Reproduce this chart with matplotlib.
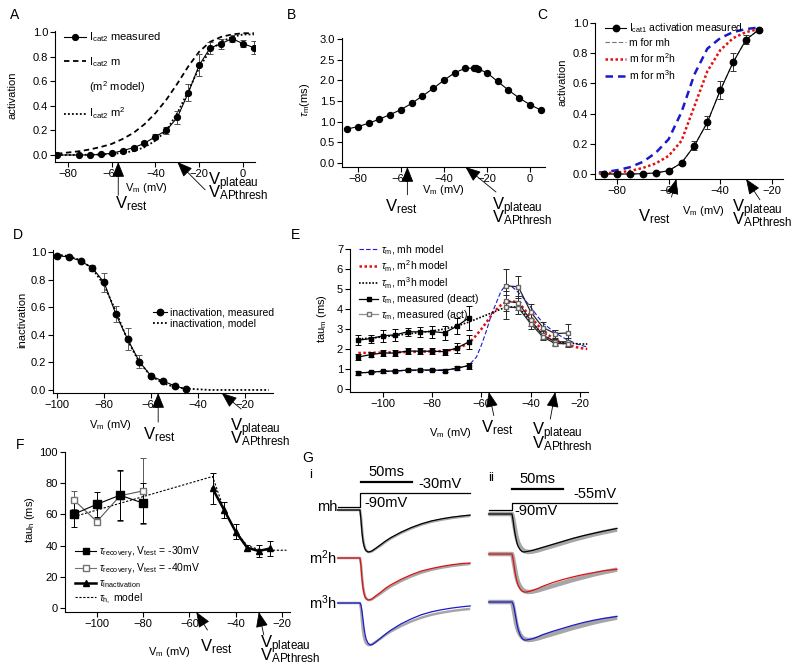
import matplotlib
matplotlib.use('Agg')
import matplotlib.pyplot as plt
from matplotlib.lines import Line2D

plt.rcParams['font.family'] = ['Liberation Sans Narrow', 'Liberation Sans', 'DejaVu Sans']
plt.rcParams['mathtext.fontset'] = 'custom'
plt.rcParams['mathtext.rm'] = 'Liberation Sans'
plt.rcParams['mathtext.it'] = 'Liberation Sans:italic'
plt.rcParams['mathtext.bf'] = 'Liberation Sans:bold'

# ---- A: Icat2 activation ----
a_v = [-85, -75, -70, -65, -60, -55, -50, -45, -40, -35, -30, -25, -20, -15, -10, -5, 0, 5]
a_act = [0.0, 0.0, 0.0, 0.005, 0.014, 0.035, 0.06, 0.095, 0.15, 0.20, 0.305, 0.505, 0.73, 0.87, 0.905, 0.946, 0.905, 0.873]
a_err = [0.0, 0.0, 0.0, 0.0, 0.005, 0.005, 0.01, 0.015, 0.02, 0.03, 0.05, 0.07, 0.09, 0.05, 0.04, 0.03, 0.03, 0.05]
a_mod_v = [-85, -80, -75, -70, -65, -60, -55, -50, -45, -40, -35, -30, -25, -20, -15, -10, -5, 0, 5]
a_m = [0.01, 0.02, 0.03, 0.045, 0.065, 0.09, 0.13, 0.18, 0.25, 0.34, 0.45, 0.58, 0.72, 0.84, 0.92, 0.96, 0.98, 0.99, 0.99]
a_m2 = [0.0, 0.0, 0.001, 0.002, 0.004, 0.008, 0.017, 0.032, 0.063, 0.116, 0.2, 0.34, 0.52, 0.71, 0.85, 0.92, 0.96, 0.98, 0.98]

# ---- B: tau m ----
b_v = [-85, -80, -75, -70, -65, -60, -55, -50, -45, -40, -35, -30, -26, -25, -24, -20, -15, -10, -5, 0, 5]
b_tau = [0.82, 0.88, 0.96, 1.06, 1.17, 1.29, 1.44, 1.62, 1.80, 2.0, 2.18, 2.29, 2.29, 2.29, 2.27, 2.18, 1.97, 1.76, 1.57, 1.41, 1.28]

# ---- C: Icat1 activation ----
c_v = [-85, -80, -75, -70, -65, -60, -55, -50, -45, -40, -35, -30, -25]
c_act = [0.0, 0.0, 0.0, 0.002, 0.007, 0.022, 0.073, 0.188, 0.342, 0.554, 0.74, 0.89, 0.956]
c_err = [0.0, 0.0, 0.0, 0.0, 0.004, 0.006, 0.01, 0.03, 0.045, 0.06, 0.06, 0.03, 0.01]
c_mod_v = [-87, -85, -80, -75, -70, -65, -60, -55, -50, -45, -40, -35, -30, -25]
c_m_mh = [0.0, 0.0, 0.0, 0.0, 0.002, 0.007, 0.022, 0.073, 0.188, 0.342, 0.554, 0.74, 0.89, 0.956]
c_m_m2h = [0.004, 0.005, 0.01, 0.02, 0.04, 0.07, 0.12, 0.22, 0.45, 0.68, 0.82, 0.9, 0.94, 0.96]
c_m_m3h = [0.01, 0.012, 0.025, 0.045, 0.08, 0.14, 0.23, 0.41, 0.66, 0.83, 0.9, 0.94, 0.96, 0.97]

# ---- D: inactivation ----
d_v = [-100, -95, -90, -85, -80, -75, -70, -65, -60, -55, -50, -45]
d_inact = [0.973, 0.964, 0.935, 0.884, 0.78, 0.55, 0.368, 0.206, 0.10, 0.065, 0.03, 0.005]
d_err = [0.01, 0.01, 0.01, 0.02, 0.07, 0.06, 0.08, 0.05, 0.01, 0.005, 0.005, 0.0]
d_mod_v = [-100, -95, -90, -85, -80, -75, -70, -65, -60, -55, -50, -45, -40, -35, -30, -25, -20, -15, -10]
d_mod = [0.98, 0.97, 0.94, 0.88, 0.76, 0.57, 0.36, 0.2, 0.1, 0.05, 0.02, 0.01, 0.005, 0.0, 0.0, 0.0, 0.0, 0.0, 0.0]

# ---- E: tau m, three models ----
e_deact_v = [-110, -105, -100, -95, -90, -85, -80, -75, -70, -65]
e_deact_mh = [0.80, 0.84, 0.89, 0.90, 0.95, 0.95, 0.95, 0.92, 1.05, 1.17]
e_deact_mh_err = [0.08, 0.06, 0.07, 0.07, 0.05, 0.06, 0.06, 0.07, 0.08, 0.15]
e_deact_m2h = [1.60, 1.72, 1.80, 1.80, 1.90, 1.89, 1.89, 1.87, 2.05, 2.36]
e_deact_m2h_err = [0.15, 0.12, 0.15, 0.17, 0.13, 0.15, 0.15, 0.15, 0.25, 0.35]
e_deact_m3h = [2.44, 2.52, 2.66, 2.71, 2.86, 2.86, 2.87, 2.81, 3.14, 3.57]
e_deact_m3h_err = [0.25, 0.2, 0.3, 0.3, 0.2, 0.25, 0.3, 0.35, 0.4, 0.6]
e_act_v = [-50, -45, -40, -35, -30, -25]
e_act_1 = [5.16, 5.11, 3.86, 3.07, 2.77, 2.80]
e_act_1_err = [0.85, 0.55, 0.4, 0.3, 0.2, 0.45]
e_act_2 = [4.39, 4.31, 3.44, 2.69, 2.36, 2.36]
e_act_2_err = [0.5, 0.35, 0.3, 0.2, 0.15, 0.2]
e_act_3 = [4.11, 4.06, 3.27, 2.60, 2.27, 2.27]
e_act_3_err = [0.6, 0.3, 0.25, 0.15, 0.1, 0.15]
e_mh_v = [-110, -100, -90, -80, -70, -65, -62, -60, -58, -56, -54, -52, -50, -48, -46, -44, -42, -40, -37, -35, -30, -25, -20, -17]
e_mh = [0.8, 0.87, 0.92, 0.94, 1.0, 1.2, 1.6, 2.2, 2.9, 3.7, 4.3, 4.9, 5.2, 5.15, 4.95, 4.7, 4.4, 4.1, 3.6, 3.3, 2.8, 2.45, 2.2, 2.1]
e_m2h_v = [-110, -100, -90, -80, -75, -70, -65, -62, -60, -57, -55, -52, -50, -48, -46, -44, -40, -35, -30, -25, -20, -17]
e_m2h = [1.8, 1.82, 1.85, 1.88, 1.9, 2.0, 2.3, 2.7, 3.0, 3.5, 3.85, 4.2, 4.35, 4.4, 4.35, 4.2, 3.6, 2.9, 2.45, 2.2, 2.05, 2.0]
e_m3h_v = [-110, -100, -90, -80, -75, -70, -65, -60, -55, -50, -45, -40, -35, -30, -25, -20, -17]
e_m3h = [2.5, 2.6, 2.75, 2.9, 3.0, 3.15, 3.35, 3.6, 3.85, 4.1, 4.1, 3.4, 2.7, 2.35, 2.3, 2.25, 2.25]

# ---- F: tau h ----
f_rec_v = [-110, -100, -90, -80]
f_rec30 = [60.1, 66.5, 72.3, 67.2]
f_rec30_err = [8, 8, 16, 13]
f_rec40 = [69.3, 55.4, 71.9, 75.1]
f_rec40_err = [6, 2, 16, 21]
f_inact_v = [-50, -45, -40, -35, -30, -25]
f_inact = [76.6, 62.9, 48.9, 38.6, 36.5, 38.2]
f_inact_err = [10, 5, 5, 2, 4, 5]
f_mod_v = [-110, -50, -45, -40, -35, -30, -25, -18]
f_mod = [58.5, 84.3, 63, 49, 40, 37.5, 37, 37]

# ---- G: current traces (normalised), i = step to -30 mV, ii = step to -55 mV ----
gi_t = [-22, 0, 1, 2, 3, 4, 5, 6, 8, 10, 12, 15, 20, 25, 30, 40, 50, 60, 70, 80, 90, 100, 108]
gi_data = [0, 0, -0.15, -0.45, -0.68, -0.82, -0.91, -0.96, -1.0, -1.0, -0.98, -0.93, -0.85, -0.76, -0.68, -0.55, -0.44, -0.35, -0.28, -0.23, -0.19, -0.16, -0.14]
gi_mh = [0, 0, -0.25, -0.55, -0.75, -0.86, -0.93, -0.97, -1.0, -0.99, -0.97, -0.92, -0.83, -0.74, -0.66, -0.53, -0.42, -0.33, -0.26, -0.21, -0.17, -0.14, -0.12]
gi_m2h = [0, 0, -0.2, -0.5, -0.72, -0.85, -0.93, -0.97, -1.0, -0.99, -0.97, -0.91, -0.82, -0.72, -0.64, -0.51, -0.40, -0.31, -0.25, -0.2, -0.16, -0.13, -0.12]
gi_m3h = [0, 0, -0.05, -0.2, -0.4, -0.6, -0.75, -0.86, -0.96, -1.0, -0.99, -0.94, -0.84, -0.74, -0.65, -0.5, -0.38, -0.28, -0.21, -0.16, -0.12, -0.09, -0.07]
gi_vt = [-22, 0, 0, 108]
gi_vcmd = [-90, -90, -30, -30]

gii_t = [-23, 0, 1, 2, 3, 4, 5, 6, 8, 10, 12, 14, 16, 20, 25, 30, 40, 50, 60, 70, 80, 90, 103]
gii_data = [0, 0, -0.1, -0.25, -0.4, -0.55, -0.66, -0.75, -0.86, -0.93, -0.97, -0.99, -1.0, -0.99, -0.96, -0.92, -0.84, -0.76, -0.68, -0.61, -0.54, -0.48, -0.41]
gii_mh = [0, 0, -0.15, -0.35, -0.52, -0.66, -0.77, -0.85, -0.94, -0.99, -1.0, -0.99, -0.98, -0.96, -0.92, -0.88, -0.8, -0.72, -0.64, -0.57, -0.51, -0.45, -0.38]
gii_m2h = [0, 0, -0.12, -0.3, -0.48, -0.62, -0.73, -0.82, -0.92, -0.98, -1.0, -1.0, -0.99, -0.96, -0.91, -0.85, -0.75, -0.67, -0.6, -0.54, -0.49, -0.44, -0.4]
gii_m3h = [0, 0, -0.05, -0.15, -0.3, -0.45, -0.6, -0.72, -0.87, -0.96, -1.0, -1.0, -0.99, -0.97, -0.92, -0.86, -0.77, -0.69, -0.61, -0.54, -0.48, -0.43, -0.38]
gii_vt = [-23, 0, 0, 103]
gii_vcmd = [-90, -90, -55, -55]

V_REST = -57
V_PLAT = -30

W, H = 800, 672
fig = plt.figure(figsize=(W / 100, H / 100), dpi=100)
RED = '#e01010'
BLUE = '#1a1acc'
LEG = 7.5


def px_axes(l, t, r, b):
    return fig.add_axes([l / W, 1 - b / H, (r - l) / W, (b - t) / H])


def ftext(x, y, s, **kw):
    kw.setdefault('fontsize', 8)
    return fig.text(x / W, 1 - y / H, s, **kw)


def style(ax, xlim, ylim, xticks, yticks, yfmt=None):
    for s in ('top', 'right'):
        ax.spines[s].set_visible(False)
    for s in ('left', 'bottom'):
        ax.spines[s].set_linewidth(0.8)
    ax.set_xlim(*xlim)
    ax.set_ylim(*ylim)
    ax.set_xticks(xticks)
    ax.set_yticks(yticks)
    if yfmt:
        ax.set_yticklabels([yfmt % y for y in yticks])
    ax.tick_params(direction='out', length=3.5, width=0.8, labelsize=8, pad=1.5)
    ax.patch.set_alpha(0)


def legend(ax, handles, labels, x, y, **kw):
    opts = dict(loc='upper left', frameon=False, fontsize=LEG, handlelength=2.0,
                handletextpad=0.3, borderpad=0, bbox_transform=fig.transFigure)
    opts.update(kw)
    ax.legend(handles, labels, bbox_to_anchor=(x / W, 1 - y / H), **opts)


def marks(ax, rest_off, plat_off):
    # black arrowheads pointing at V_rest and V_plateau on the x axis
    for x, off in ((V_REST, rest_off), (V_PLAT, plat_off)):
        ax.annotate('', xy=(x, 0), xycoords=('data', 'axes fraction'),
                    xytext=off, textcoords='offset points',
                    arrowprops=dict(arrowstyle='-|>,head_length=0.95,head_width=0.38',
                                    color='k', lw=0.6, shrinkA=0, shrinkB=0),
                    annotation_clip=False)


def vlabels(rest_xy, plat_xy, gap=11):
    ftext(rest_xy[0], rest_xy[1], r'V$_\mathregular{rest}$', fontsize=12, va='baseline')
    ftext(plat_xy[0], plat_xy[1], r'V$_\mathregular{plateau}$', fontsize=12, va='baseline')
    ftext(plat_xy[0], plat_xy[1] + gap, r'V$_\mathregular{APthresh}$', fontsize=12, va='baseline')


vm_label = r'V$_\mathregular{m}$ (mV)'
ebar = dict(capsize=2, elinewidth=0.7, capthick=0.7)

# ================= A =================
ax = px_axes(55, 31, 255, 162)
style(ax, (-85.9, 5.5), (-0.057, 1.008), [-80, -60, -40, -20, 0], [0, 0.2, 0.4, 0.6, 0.8, 1.0], '%.1f')
ax.plot(a_mod_v, a_m, color='k', ls=(0, (3, 2)), lw=1.3)
ax.plot(a_mod_v, a_m2, color='k', ls=(0, (1, 1.2)), lw=1.3)
ax.errorbar(a_v, a_act, yerr=a_err, fmt='-o', color='k', ms=4.2, lw=0.8, ecolor='0.3', **ebar)
hA = [Line2D([], [], color='k', marker='o', ms=4.2, lw=0.8),
      Line2D([], [], color='k', ls=(0, (3, 2)), lw=1.3),
      Line2D([], [], color='none'),
      Line2D([], [], color='k', ls=(0, (1, 1.2)), lw=1.3)]
lA = [r'I$_\mathregular{cat2}$ measured', r'I$_\mathregular{cat2}$ m',
      r'(m$^\mathregular{2}$ model)', r'I$_\mathregular{cat2}$ m$^\mathregular{2}$']
legend(ax, hA, lA, 58, 25, labelspacing=0.95, fontsize=8)
marks(ax, (0, -24), (20, -20))
ftext(13, 95, 'activation', rotation=90, ha='center', va='center')
ftext(146, 188, vm_label, ha='center', va='center')
vlabels((115, 208), (208, 185), 12)
ftext(15, 15, 'A', fontsize=10, ha='center', va='center')

# ================= B =================
ax = px_axes(342, 38, 545, 167)
style(ax, (-87.4, 7.0), (-0.097, 3.02), [-80, -60, -40, -20, 0], [0, 0.5, 1.0, 1.5, 2.0, 2.5, 3.0], '%.1f')
ax.plot(b_v, b_tau, '-o', color='k', ms=4.3, lw=0.8)
marks(ax, (0, -20), (22, -18))
ftext(305, 100, r'$\tau_\mathregular{m}$(ms)', rotation=90, ha='center', va='center')
ftext(443, 190, vm_label, ha='center', va='center')
vlabels((385, 211), (492, 210), 12)
ftext(292, 15, 'B', fontsize=10, ha='center', va='center')

# ================= C =================
ax = px_axes(595, 23, 783, 179)
style(ax, (-88.5, -15.7), (-0.033, 1.0), [-80, -60, -40, -20], [0, 0.2, 0.4, 0.6, 0.8, 1.0], '%.1f')
ax.plot(c_mod_v, c_m_m3h, color=BLUE, ls=(0, (3, 2)), lw=1.8)
ax.plot(c_mod_v, c_m_m2h, color=RED, ls=(0, (1, 1)), lw=1.8)
ax.plot(c_mod_v, c_m_mh, color='0.45', ls=(0, (4, 2)), lw=0.8)
ax.errorbar(c_v, c_act, yerr=c_err, fmt='-o', color='k', ms=4.6, lw=0.8, ecolor='0.2', **ebar)
hC = [Line2D([], [], color='k', marker='o', ms=4.6, lw=0.8),
      Line2D([], [], color='0.45', ls=(0, (4, 2)), lw=0.8),
      Line2D([], [], color=RED, ls=(0, (1, 1)), lw=1.8),
      Line2D([], [], color=BLUE, ls=(0, (3, 2)), lw=1.8)]
lC = [r'I$_\mathregular{cat1}$ activation measured', 'm for mh',
      r'm for m$^\mathregular{2}$h', r'm for m$^\mathregular{3}$h']
legend(ax, hC, lC, 600, 16, labelspacing=0.3)
marks(ax, (-3.5, -13), (10, -15))
ftext(563, 82, 'activation', rotation=90, ha='center', va='center')
ftext(703, 211, vm_label, ha='center', va='center')
vlabels((638, 221), (732, 212), 12)
ftext(542, 15, 'C', fontsize=10, ha='center', va='center')

# ================= D =================
ax = px_axes(53, 250, 273, 393)
style(ax, (-101.7, -8.2), (-0.022, 1.014), [-100, -80, -60, -40, -20], [0, 0.2, 0.4, 0.6, 0.8, 1.0], '%.1f')
ax.plot(d_mod_v, d_mod, color='k', ls=(0, (1, 1.2)), lw=1.3)
ax.errorbar(d_v, d_inact, yerr=d_err, fmt='-o', color='k', ms=4.6, lw=0.8, ecolor='0.35', **ebar)
hD = [Line2D([], [], color='k', marker='o', ms=4.6, lw=0.8),
      Line2D([], [], color='k', ls=(0, (1, 1.2)), lw=1.3)]
legend(ax, hD, ['inactivation, measured', 'inactivation, model'], 148, 302,
       handlelength=1.3, labelspacing=0.1)
marks(ax, (0, -21), (14, -11.5))
ftext(22, 320, 'inactivation', rotation=90, ha='center', va='center')
ftext(110, 425, vm_label, ha='center', va='center')
vlabels((143, 439), (230, 431), 12)
ftext(18, 235, 'D', fontsize=10, ha='center', va='center')

# ================= E =================
ax = px_axes(350, 249, 588, 392)
style(ax, (-113.4, -16.7), (-0.15, 7.0), [-100, -80, -60, -40, -20], list(range(8)))
ax.plot(e_mh_v, e_mh, color=BLUE, ls=(0, (4, 2)), lw=0.8)
ax.plot(e_m2h_v, e_m2h, color=RED, ls=(0, (1, 1)), lw=1.8)
ax.plot(e_m3h_v, e_m3h, color='k', ls=(0, (1, 1)), lw=1.2)
for y, err in ((e_deact_mh, e_deact_mh_err), (e_deact_m2h, e_deact_m2h_err), (e_deact_m3h, e_deact_m3h_err)):
    ax.errorbar(e_deact_v, y, yerr=err, fmt='-s', color='k', ms=3.2, lw=0.9, **ebar)
for y, err in ((e_act_1, e_act_1_err), (e_act_2, e_act_2_err), (e_act_3, e_act_3_err)):
    ax.errorbar(e_act_v, y, yerr=err, fmt='-s', color='0.15', mfc='white', mec='0.4', ms=3.2, lw=0.9, **ebar)
hE = [Line2D([], [], color=BLUE, ls=(0, (4, 2)), lw=0.8),
      Line2D([], [], color=RED, ls=(0, (1, 1)), lw=1.8),
      Line2D([], [], color='k', ls=(0, (1, 1)), lw=1.2),
      Line2D([], [], color='k', marker='s', ms=3.2, lw=0.9),
      Line2D([], [], color='0.55', marker='s', mfc='white', mec='0.45', ms=3.2, lw=0.9)]
lE = [r'$\tau_\mathregular{m}$, mh model', r'$\tau_\mathregular{m}$, m$^\mathregular{2}$h model',
      r'$\tau_\mathregular{m}$, m$^\mathregular{3}$h model', r'$\tau_\mathregular{m}$, measured (deact)',
      r'$\tau_\mathregular{m}$, measured (act)']
legend(ax, hE, lE, 354, 238, handlelength=1.8, labelspacing=0.15)
marks(ax, (3.6, -17), (-3.6, -19.5))
ftext(322, 318, r'tau$_\mathregular{m}$ (ms)', rotation=90, ha='center', va='center')
ftext(450, 433, vm_label, ha='center', va='center')
vlabels((481, 432), (532, 435), 13)
ftext(295, 235, 'E', fontsize=10, ha='center', va='center')

# ================= F =================
ax = px_axes(65, 452, 290, 612)
style(ax, (-113.8, -16.5), (-2.6, 100), [-100, -80, -60, -40, -20], [0, 20, 40, 60, 80, 100])
ax.plot(f_mod_v, f_mod, color='k', ls=(0, (2, 1.5)), lw=0.8)
ax.errorbar(f_rec_v, f_rec40, yerr=f_rec40_err, fmt='-s', color='0.35', mfc='white', mec='0.45', ms=5, lw=0.8, **ebar)
ax.errorbar(f_rec_v, f_rec30, yerr=f_rec30_err, fmt='-s', color='k', ms=5.5, lw=0.8, **ebar)
ax.errorbar(f_inact_v, f_inact, yerr=f_inact_err, fmt='-^', color='k', ms=5, lw=1.8, **ebar)
hF = [Line2D([], [], color='k', marker='s', ms=5, lw=0.8),
      Line2D([], [], color='0.45', marker='s', mfc='white', mec='0.45', ms=5, lw=0.8),
      Line2D([], [], color='k', marker='^', ms=5, lw=1.8),
      Line2D([], [], color='k', ls=(0, (2, 1.5)), lw=0.8)]
lF = [r'$\tau_\mathregular{recovery}$, V$_\mathregular{test}$ = -30mV',
      r'$\tau_\mathregular{recovery}$, V$_\mathregular{test}$ = -40mV',
      r'$\tau_\mathregular{inactivation}$', r'$\tau_\mathregular{h,}$ model']
legend(ax, hF, lF, 70, 539, labelspacing=0.08)
marks(ax, (8, -13), (3.6, -16.5))
ftext(30, 520, r'tau$_\mathregular{h}$ (ms)', rotation=90, ha='center', va='center')
ftext(169, 652, vm_label, ha='center', va='center')
vlabels((200, 651), (260, 648), 12)
ftext(20, 445, 'F', fontsize=10, ha='center', va='center')

# ================= G =================
ftext(308, 458, 'G', fontsize=10, ha='center', va='center')
panels = [
    dict(rect=(330, 455, 480, 660), xlim=(-29.4, 117.6), ylim=(-3.571, 1.31),
         rows=(0, -1.143, -2.214), v0=0.071, vs=0.00556, t=gi_t, data=gi_data,
         models=(gi_mh, gi_m2h, gi_m3h), vt=gi_vt, vcmd=gi_vcmd, lw=1.8,
         bar=(1, 51, 0.667), bartxt=(26, 0.9), step_txt=('-30mV', 57, 0.62), hold_txt=(4, 0.167),
         tag=('i', -48, 0.83), names=True),
    dict(rect=(480, 455, 630, 660), xlim=(-31.37, 115.7), ylim=(-3.842, 1.553),
         rows=(0, -1.053, -2.316), v0=0.105, vs=0.00526, t=gii_t, data=gii_data,
         models=(gii_mh, gii_m2h, gii_m3h), vt=gii_vt, vcmd=gii_vcmd, lw=3.2,
         bar=(0, 50, 0.658), bartxt=(24.5, 0.92), step_txt=('-55mV', 60, 0.526), hold_txt=(2, 0.07),
         tag=('ii', -20.6, 0.95), names=False),
]
for p in panels:
    ax = px_axes(*p['rect'])
    ax.set_xlim(*p['xlim'])
    ax.set_ylim(*p['ylim'])
    ax.axis('off')
    for off, model, col in zip(p['rows'], p['models'], ('k', RED, BLUE)):
        ax.plot(p['t'], [off + y for y in p['data']], color='0.65', lw=p['lw'], solid_capstyle='butt')
        ax.plot(p['t'], [off + y for y in model], color=col, lw=0.9)
    ax.plot(p['vt'], [p['v0'] + (v + 90) * p['vs'] for v in p['vcmd']], color='k', lw=0.9)
    x0, x1, yb = p['bar']
    ax.plot([x0, x1], [yb, yb], color='k', lw=1.6)
    ax.text(p['bartxt'][0], p['bartxt'][1], '50ms', ha='center', va='center', fontsize=10.5)
    s, xs, ys = p['step_txt']
    ax.text(xs, ys, s, ha='left', va='center', fontsize=10.5)
    ax.text(p['hold_txt'][0], p['hold_txt'][1], '-90mV', ha='left', va='center', fontsize=10.5)
    ax.text(p['tag'][1], p['tag'][2], p['tag'][0], ha='center', va='center', fontsize=9.5, clip_on=False)
    if p['names']:
        for off, name in zip((0.07, p['rows'][1], p['rows'][2]), ('mh', r'm$^\mathregular{2}$h', r'm$^\mathregular{3}$h')):
            ax.text(-22.5, off, name, ha='right', va='center', fontsize=10.5, clip_on=False)

fig.savefig('out.png', dpi=100)
